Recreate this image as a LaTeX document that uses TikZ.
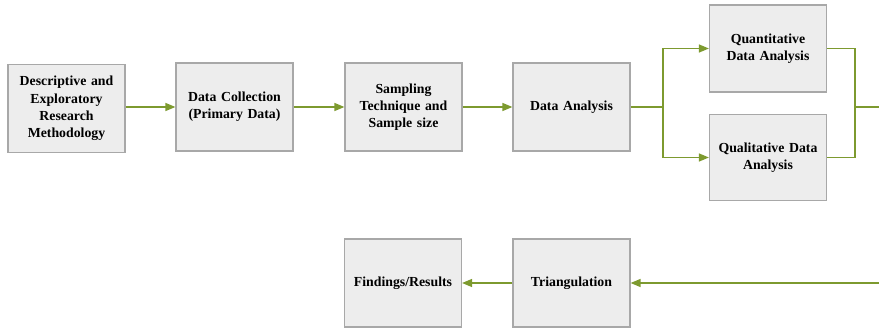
\documentclass[tikz,border=0pt]{standalone}
\usepackage{fontspec}
\setmainfont{Liberation Serif}
\usetikzlibrary{arrows.meta,shadows}
\definecolor{arrowgreen}{HTML}{7D9A2F}
\definecolor{boxfill}{HTML}{EDEDED}
\definecolor{boxline}{HTML}{A8A8A8}
\begin{document}
\begin{tikzpicture}[x=1pt,y=-1pt,
  stepbox/.style={draw=boxline, fill=boxfill, line width=1.2pt,
    minimum width=117pt, minimum height=88pt, inner sep=2pt,
    align=center, text width=112pt, font=\bfseries\fontsize{13.8}{17.2}\selectfont,
    drop shadow={shadow xshift=0.8pt, shadow yshift=-0.8pt, fill=gray!45, opacity=1}},
  conn/.style={draw=arrowgreen, line width=1.4pt},
  arr/.style={conn, -{Triangle[length=10pt,width=8pt]}, arrowgreen}]
\useasboundingbox (0,0) rectangle (879,329);
\node[stepbox] (b1) at (66.5,108.5) {Descriptive and\\Exploratory\\Research\\Methodology};
\node[stepbox] (b2) at (234.5,107) {Data Collection\\(Primary Data)};
\node[stepbox] (b3) at (403.5,107) {Sampling\\Technique and\\Sample size};
\node[stepbox] (b4) at (571.5,107) {Data Analysis};
\node[stepbox, minimum height=87pt] (quant) at (768,48.5) {Quantitative\\Data Analysis};
\node[stepbox, minimum height=86pt] (qual) at (768,157.5) {Qualitative Data\\Analysis};
\node[stepbox] (find) at (403,283) {Findings/Results};
\node[stepbox] (tri) at (571.5,283) {Triangulation};
\coordinate (split) at (663,107);
\coordinate (merge) at (855,107);
\coordinate (edgetop) at (884,107);
\coordinate (edgebot) at (884,283);
\draw[arr] (b1.east |- b2.west) -- (b2.west);
\draw[arr] (b2) -- (b3);
\draw[arr] (b3) -- (b4);
\draw[conn] (b4.east) -- (split);
\draw[arr] (split) |- (quant.west);
\draw[arr] (split) |- (qual.west);
\draw[conn] (quant.east) -| (merge);
\draw[conn] (qual.east) -| (merge);
\draw[conn] (merge) -- (edgetop) -- (edgebot);
\draw[arr] (edgebot) -- (tri.east);
\draw[arr] (tri) -- (find);
\end{tikzpicture}
\end{document}
